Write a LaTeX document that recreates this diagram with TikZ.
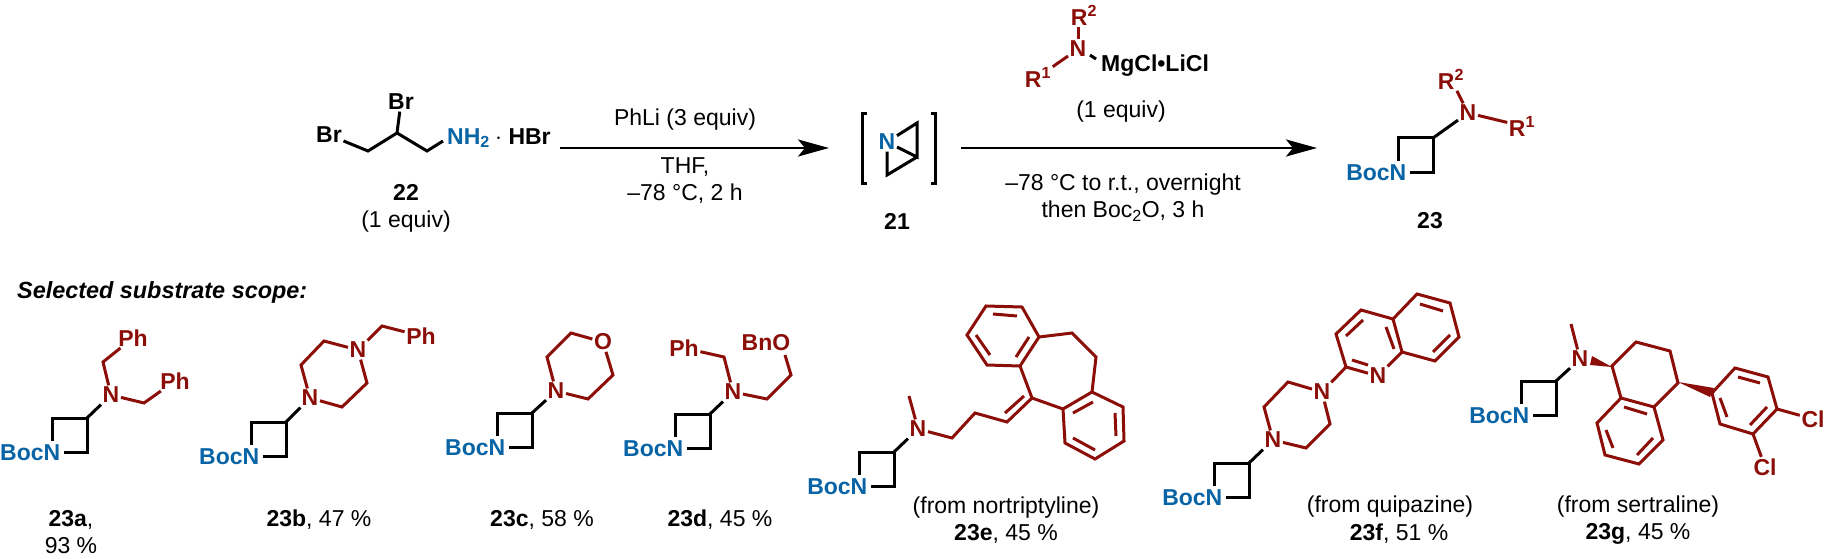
\documentclass[tikz,border=0pt]{standalone}
\usepackage{fontspec}
\setmainfont{Liberation Sans}
\usetikzlibrary{arrows.meta}
\definecolor{aminered}{RGB}{139,15,8}
\definecolor{bocblue}{RGB}{8,100,165}
\tikzset{
    bondblack/.style={line width=3pt,black},
    bondred/.style={line width=3pt,aminered},
    atomblack/.style={font=\fontsize{23}{26}\selectfont\bfseries,black,inner sep=1.5pt},
    atomred/.style={font=\fontsize{23}{26}\selectfont\bfseries,aminered,inner sep=1.5pt},
    atomblue/.style={font=\fontsize{23}{26}\selectfont\bfseries,bocblue,inner sep=1.5pt},
    condition/.style={font=\fontsize{23}{27}\selectfont,align=center,inner sep=0pt},
    rxnarrow/.style={line width=2.8pt,-{Stealth[length=31pt,width=17pt,inset=7pt]}}
}
\newcommand{\azetidine}[3]{
    \coordinate (#1TL) at (#2,#3);
    \coordinate (#1TR) at (#2+35,#3);
    \coordinate (#1BR) at (#2+35,#3+34);
    \node[atomblue,anchor=east] (#1N) at (#2+10,#3+35) {BocN};
    \draw[bondblack] (#2,#3+23) -- (#1TL) -- (#1TR) -- (#1BR) -- (#2+12,#3+34);
}
\begin{document}
\begin{tikzpicture}[x=1pt,y=-1pt]
    \useasboundingbox (0,0) rectangle (1825,559);

    % starting material 22
    \node[atomblack] (brLeft) at (329,135) {Br};
    \node[atomblack] (brTop) at (401,102) {Br};
    \node[atomblue,anchor=west,inner xsep=0pt] (nhTwo) at (447,138) {NH\textsubscript{2}};
    \node[atomblack,anchor=west,inner xsep=0pt] (hbr) at (495,137) {$\cdot$ HBr};
    \coordinate (cTwo) at (397,133);
    \draw[bondblack] (brLeft) -- (368,151) -- (cTwo) -- (427,151) -- (443,141);
    \draw[bondblack] (cTwo) -- (brTop);
    \node[condition] (lblStart) at (406,208) {\textbf{22}\\(1 equiv)};

    % first arrow
    \coordinate (arrowAstart) at (560,148);
    \coordinate (arrowAend) at (829,148);
    \draw[rxnarrow] (arrowAstart) -- (arrowAend);
    \node[condition] (condPhLi) at (685,120) {PhLi (3 equiv)};
    \node[condition] (condThf) at (685,181) {THF,\\--78 °C, 2 h};

    % intermediate 21
    \node[atomblue] (azN) at (887,142) {N};
    \draw[bondblack] (867,114) -- (862,114) -- (862,183) -- (867,183);
    \draw[bondblack] (931,114) -- (935,114) -- (935,183) -- (931,183);
    \draw[bondblack] (azN) -- (917,123) -- (917,157) -- (azN);
    \draw[bondblack] (917,157) -- (887,175) -- (azN);
    \node[condition,font=\fontsize{23}{27}\selectfont\bfseries] (lblAz) at (897,221) {21};

    % second arrow with amide
    \coordinate (arrowBstart) at (961,148);
    \coordinate (arrowBend) at (1317,148);
    \draw[rxnarrow] (arrowBstart) -- (arrowBend);
    \node[atomred] (amN) at (1078,49) {N};
    \node[atomred] (amRtwo) at (1084,15) {R\textsuperscript{2}};
    \node[atomred] (amRone) at (1038,77) {R\textsuperscript{1}};
    \node[atomblack,anchor=west,inner sep=0pt] (amMg) at (1101,66) {MgCl•LiCl};
    \draw[bondred] (amN) -- (amRtwo.south -| amN);
    \draw[bondred] (amN) -- (amRone);
    \draw[bondblack] (1090,55) -- (1096,59);
    \node[condition] (condEquiv) at (1121,112) {(1 equiv)};
    \node[condition] (condBoc) at (1123,198) {--78 °C to r.t., overnight\\then Boc\textsubscript{2}O, 3 h};

    % product 23
    \azetidine{p}{1398}{138}
    \node[atomred] (pAm) at (1468,113) {N};
    \node[atomred] (pRtwo) at (1451,79) {R\textsuperscript{2}};
    \node[atomred] (pRone) at (1522,126) {R\textsuperscript{1}};
    \draw[bondblack] (pTR) -- (pAm);
    \draw[bondred] (pAm) -- (pRtwo);
    \draw[bondred] (pAm) -- (pRone);
    \node[condition,font=\fontsize{23}{27}\selectfont\bfseries] (lblP) at (1430,221) {23};

    \node[anchor=west,inner sep=0pt,font=\fontsize{23.4}{27}\selectfont\bfseries\itshape] (scope) at (17,292) {Selected substrate scope:};

    % 23a
    \azetidine{a}{52}{418}
    \node[atomred] (aAm) at (111,395) {N};
    \node[atomred] (aPhA) at (133,338) {Ph};
    \node[atomred] (aPhB) at (175,381) {Ph};
    \draw[bondblack] (aTR) -- (aAm);
    \draw[bondred] (aAm) -- (103,362) -- (aPhA);
    \draw[bondred] (aAm) -- (144,403) -- (aPhB);
    \node[condition] (lblA) at (71,532) {\textbf{23a},\\93 \%};

    % 23b
    \azetidine{b}{251}{422}
    \node[atomred] (bAm) at (310,398) {N};
    \node[atomred] (bAmB) at (358,350) {N};
    \node[atomred] (bPh) at (421,336) {Ph};
    \draw[bondblack] (bTR) -- (bAm);
    \draw[bondred] (bAm) -- (301,365) -- (324,341) -- (bAmB);
    \draw[bondred] (bAm) -- (342,407) -- (367,383) -- (bAmB);
    \draw[bondred] (bAmB) -- (382,326) -- (bPh);
    \node[condition] (lblB) at (319,520) {\textbf{23b}, 47 \%};

    % 23c
    \azetidine{c}{497}{413}
    \node[atomred] (cAm) at (556,391) {N};
    \node[atomred] (cOx) at (603,342) {O};
    \draw[bondblack] (cTR) -- (cAm);
    \draw[bondred] (cAm) -- (547,357) -- (571,333) -- (cOx);
    \draw[bondred] (cAm) -- (588,399) -- (613,375) -- (cOx);
    \node[condition] (lblC) at (542,520) {\textbf{23c}, 58 \%};

    % 23d
    \azetidine{d}{675}{414}
    \node[atomred] (dAm) at (733,392) {N};
    \node[atomred] (dPh) at (684,348) {Ph};
    \node[atomred] (dBnO) at (766,343) {BnO};
    \draw[bondblack] (dTR) -- (dAm);
    \draw[bondred] (dAm) -- (724,357) -- (dPh);
    \draw[bondred] (dAm) -- (767,399) -- (791,375) -- (785,355);
    \node[condition] (lblD) at (720,520) {\textbf{23d}, 45 \%};

    % 23e
    \azetidine{e}{859}{452}
    \node[atomred] (eAm) at (918,429) {N};
    \coordinate (eMe) at (909,396);
    \draw[bondblack] (eTR) -- (eAm);
    \draw[bondred] (eAm) -- (eMe);
    \draw[bondred] (eAm) -- (952,438) -- (975,413) -- (1007,422) -- (1032,398);
    \draw[bondred] (1020,366) -- (1039,337) -- (1022,307) -- (986,306) -- (967,335) -- (987,365) -- cycle;
    \draw[bondred] (1039,337) -- (1072,333) -- (1096,357) -- (1092,392);
    \draw[bondred] (1020,366) -- (1032,398) -- (1063,409);
    \draw[bondred] (1092,392) -- (1063,409) -- (1065,443) -- (1095,459) -- (1124,441) -- (1123,407) -- cycle;
    \foreach \ax/\ay/\bx/\by in {1005/413/1024/396, 1016/357/1029/337, 993/314/1017/316, 976/335/990/355, 1073/413/1093/402, 1073/438/1095/450, 1115/413/1116/436}
        \draw[bondred] (\ax,\ay) -- (\bx,\by);
    \node[condition] (lblE) at (1006,520) {(from nortriptyline)\\\textbf{23e}, 45 \%};

    % 23f
    \azetidine{f}{1214}{463}
    \node[atomred] (fAm) at (1273,440) {N};
    \node[atomred] (fAmB) at (1322,392) {N};
    \node[atomred] (fQu) at (1378,376) {N};
    \draw[bondblack] (fTR) -- (fAm);
    \draw[bondred] (fAm) -- (1264,407) -- (1288,382) -- (fAmB);
    \draw[bondred] (fAm) -- (1306,448) -- (1330,424) -- (fAmB);
    \draw[bondred] (fAmB) -- (1346,367);
    \draw[bondred] (fQu) -- (1346,367) -- (1336,334) -- (1361,310) -- (1393,319) -- (1402,352) -- (fQu);
    \draw[bondred] (1393,319) -- (1417,294) -- (1450,303) -- (1459,337) -- (1435,361) -- (1402,352);
    \foreach \ax/\ay/\bx/\by in {1352/360/1368/365, 1346/336/1363/320, 1386/327/1394/349, 1420/304/1443/311, 1450/335/1433/352}
        \draw[bondred] (\ax,\ay) -- (\bx,\by);
    \node[condition] (noteF) at (1390,506.5) {(from quipazine)};
    \node[condition] (lblF) at (1399,533.5) {\textbf{23f}, 51 \%};

    % 23g
    \azetidine{g}{1521}{381}
    \node[atomred] (gAm) at (1580,359) {N};
    \node[atomred] (gClA) at (1813,419) {Cl};
    \node[atomred] (gClB) at (1765,467) {Cl};
    \coordinate (gMe) at (1571,324);
    \draw[bondblack] (gTR) -- (gAm);
    \draw[bondred] (gAm) -- (gMe);
    \fill[aminered] (1612,367) -- (1592,356) -- (1590,365) -- cycle;
    \fill[aminered] (1678,382) -- (1714,388) -- (1710,397) -- cycle;
    \draw[bondred] (1612,366) -- (1636,342) -- (1670,351) -- (1678,383) -- (1654,407) -- (1621,398) -- cycle;
    \draw[bondred] (1621,398) -- (1597,423) -- (1605,455) -- (1639,464) -- (1663,440) -- (1654,407);
    \draw[bondred] (1712,393) -- (1735,368) -- (1768,377) -- (1777,409) -- (1753,434) -- (1720,424) -- cycle;
    \draw[bondred] (1777,409) -- (gClA);
    \draw[bondred] (1753,434) -- (gClB);
    \foreach \ax/\ay/\bx/\by in {1624/407/1647/414, 1606/430/1613/448, 1637/455/1653/438, 1738/377/1760/383, 1767/407/1750/425, 1720/398/1727/417}
        \draw[bondred] (\ax,\ay) -- (\bx,\by);
    \node[condition] (lblG) at (1638,520) {(from sertraline)\\\textbf{23g}, 45 \%};
\end{tikzpicture}
\end{document}
